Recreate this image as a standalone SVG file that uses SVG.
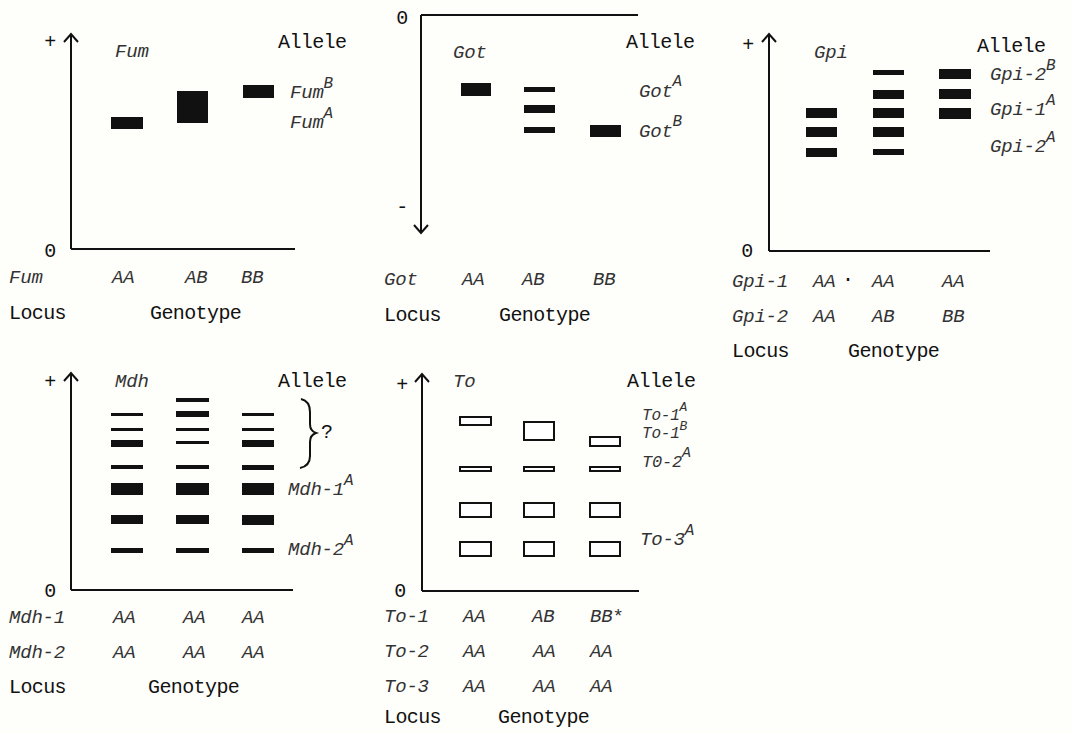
<svg xmlns="http://www.w3.org/2000/svg" width="1072" height="734" viewBox="0 0 1072 734">
<defs>
<marker id="arr" markerUnits="userSpaceOnUse" markerWidth="20" markerHeight="20" refX="10" refY="10" orient="auto">
<path d="M2,3 L10,10 L2,17" fill="none" stroke="#111" stroke-width="2"/>
</marker>
<style>
.ax{stroke:#111;stroke-width:2;fill:none}
.b{fill:#111}
.o{fill:#fff;stroke:#111;stroke-width:2}
.t{font-family:"Liberation Mono","DejaVu Sans Mono",monospace;font-size:20px;letter-spacing:-0.6px;fill:#111}
.i{font-family:"Liberation Mono","DejaVu Sans Mono",monospace;font-size:19px;letter-spacing:-0.2px;font-style:italic;fill:#333}
.s{font-size:16px}
.c{text-anchor:middle}
</style>
</defs>
<rect width="1072" height="734" fill="#fefefb"/>

<g id="axes">
<path class="ax" d="M71,249 V34" marker-end="url(#arr)"/>
<path class="ax" d="M71,249 H295"/>
<path class="ax" d="M421,15 H638"/>
<path class="ax" d="M421,15 V233" marker-end="url(#arr)"/>
<path class="ax" d="M769,251 V34" marker-end="url(#arr)"/>
<path class="ax" d="M769,251 H990"/>
<path class="ax" d="M71,590 V373" marker-end="url(#arr)"/>
<path class="ax" d="M71,590 H293"/>
<path class="ax" d="M422,591 V374" marker-end="url(#arr)"/>
<path class="ax" d="M422,591 H639"/>
</g>

<g id="fum">
<text class="t c" x="50" y="48">+</text>
<text class="t c" x="50" y="257">0</text>
<text class="i" x="115" y="57">Fum</text>
<text class="t" x="278" y="48">Allele</text>
<rect class="b" x="111" y="117" width="32" height="12"/>
<rect class="b" x="177" y="91" width="31" height="32"/>
<rect class="b" x="243" y="85" width="31" height="13"/>
<text class="i" x="290" y="98">Fum<tspan class="s" dy="-10">B</tspan></text>
<text class="i" x="290" y="128">Fum<tspan class="s" dy="-10">A</tspan></text>
<text class="i" x="9" y="283">Fum</text>
<text class="i" x="112" y="283">AA</text>
<text class="i" x="185" y="283">AB</text>
<text class="i" x="241" y="283">BB</text>
<text class="t" x="9" y="319">Locus</text>
<text class="t" x="150" y="319">Genotype</text>
</g>

<g id="got">
<text class="t c" x="402" y="24">0</text>
<text class="t c" x="402" y="213">-</text>
<text class="i" x="453" y="58">Got</text>
<text class="t" x="626" y="48">Allele</text>
<rect class="b" x="461" y="83" width="30" height="13"/>
<rect class="b" x="524" y="87" width="31" height="5"/>
<rect class="b" x="524" y="105" width="31" height="8"/>
<rect class="b" x="524" y="127" width="31" height="6"/>
<rect class="b" x="590" y="125" width="31" height="12"/>
<text class="i" x="639" y="97">Got<tspan class="s" dy="-11">A</tspan></text>
<text class="i" x="639" y="137">Got<tspan class="s" dy="-11">B</tspan></text>
<text class="i" x="384" y="285">Got</text>
<text class="i" x="462" y="285">AA</text>
<text class="i" x="522" y="285">AB</text>
<text class="i" x="593" y="285">BB</text>
<text class="t" x="384" y="321">Locus</text>
<text class="t" x="499" y="321">Genotype</text>
</g>

<g id="gpi">
<text class="t c" x="748" y="51">+</text>
<text class="t c" x="747" y="257">0</text>
<text class="i" x="814" y="58">Gpi</text>
<text class="t" x="977" y="52">Allele</text>
<rect class="b" x="806" y="108" width="31" height="10"/>
<rect class="b" x="806" y="127" width="31" height="10"/>
<rect class="b" x="806" y="148" width="31" height="9"/>
<rect class="b" x="873" y="70" width="31" height="5"/>
<rect class="b" x="873" y="90" width="31" height="9"/>
<rect class="b" x="873" y="108" width="31" height="10"/>
<rect class="b" x="873" y="127" width="31" height="10"/>
<rect class="b" x="873" y="149" width="31" height="6"/>
<rect class="b" x="939" y="69" width="32" height="10"/>
<rect class="b" x="939" y="89" width="32" height="10"/>
<rect class="b" x="939" y="108" width="32" height="11"/>
<text class="i" x="990" y="80">Gpi-2<tspan class="s" dy="-10">B</tspan></text>
<text class="i" x="990" y="115">Gpi-1<tspan class="s" dy="-10">A</tspan></text>
<text class="i" x="990" y="152">Gpi-2<tspan class="s" dy="-10">A</tspan></text>
<text class="i" x="732" y="287">Gpi-1</text>
<text class="i" x="813" y="287">AA</text>
<text class="t" x="842" y="285">·</text>
<text class="i" x="872" y="287">AA</text>
<text class="i" x="942" y="287">AA</text>
<text class="i" x="732" y="322">Gpi-2</text>
<text class="i" x="813" y="322">AA</text>
<text class="i" x="872" y="322">AB</text>
<text class="i" x="942" y="322">BB</text>
<text class="t" x="732" y="357">Locus</text>
<text class="t" x="848" y="357">Genotype</text>
</g>

<g id="mdh">
<text class="t c" x="50" y="388">+</text>
<text class="t c" x="50" y="597">0</text>
<text class="i" x="115" y="387">Mdh</text>
<text class="t" x="278" y="387">Allele</text>
<rect class="b" x="111" y="413" width="32" height="3"/>
<rect class="b" x="111" y="428" width="32" height="3"/>
<rect class="b" x="111" y="440" width="32" height="7"/>
<rect class="b" x="111" y="465" width="32" height="4"/>
<rect class="b" x="111" y="483" width="32" height="12"/>
<rect class="b" x="111" y="515" width="32" height="9"/>
<rect class="b" x="111" y="548" width="32" height="5"/>
<rect class="b" x="176" y="398" width="33" height="4"/>
<rect class="b" x="176" y="411" width="33" height="6"/>
<rect class="b" x="176" y="428" width="33" height="3"/>
<rect class="b" x="176" y="441" width="33" height="3"/>
<rect class="b" x="176" y="465" width="33" height="4"/>
<rect class="b" x="176" y="483" width="33" height="12"/>
<rect class="b" x="176" y="515" width="33" height="9"/>
<rect class="b" x="176" y="548" width="33" height="5"/>
<rect class="b" x="242" y="413" width="32" height="3"/>
<rect class="b" x="242" y="428" width="32" height="3"/>
<rect class="b" x="242" y="440" width="32" height="7"/>
<rect class="b" x="242" y="465" width="32" height="5"/>
<rect class="b" x="242" y="483" width="32" height="12"/>
<rect class="b" x="242" y="515" width="32" height="10"/>
<rect class="b" x="242" y="548" width="32" height="5"/>
<path d="M301,399 Q310,401 310,412 V424 Q310,431 316,433 Q310,435 310,442 V456 Q310,466 300,468" fill="none" stroke="#111" stroke-width="2"/>
<text class="t" x="321" y="438">?</text>
<text class="i" x="288" y="495">Mdh-1<tspan class="s" dy="-10">A</tspan></text>
<text class="i" x="288" y="555">Mdh-2<tspan class="s" dy="-10">A</tspan></text>
<text class="i" x="9" y="623">Mdh-1</text>
<text class="i" x="113" y="623">AA</text>
<text class="i" x="183" y="623">AA</text>
<text class="i" x="242" y="623">AA</text>
<text class="i" x="9" y="658">Mdh-2</text>
<text class="i" x="113" y="658">AA</text>
<text class="i" x="183" y="658">AA</text>
<text class="i" x="242" y="658">AA</text>
<text class="t" x="9" y="693">Locus</text>
<text class="t" x="148" y="693">Genotype</text>
</g>

<g id="to">
<text class="t c" x="402" y="391">+</text>
<text class="t c" x="400" y="597">0</text>
<text class="i" x="453" y="387">To</text>
<text class="t" x="627" y="387">Allele</text>
<rect class="o" x="460" y="417" width="31" height="8"/>
<rect class="o" x="460" y="467" width="31" height="4"/>
<rect class="o" x="460" y="503" width="31" height="14"/>
<rect class="o" x="460" y="542" width="31" height="14"/>
<rect class="o" x="524" y="422" width="30" height="18"/>
<rect class="o" x="524" y="467" width="30" height="4"/>
<rect class="o" x="524" y="503" width="30" height="14"/>
<rect class="o" x="524" y="542" width="30" height="14"/>
<rect class="o" x="590" y="437" width="30" height="9"/>
<rect class="o" x="590" y="467" width="30" height="4"/>
<rect class="o" x="590" y="503" width="30" height="14"/>
<rect class="o" x="590" y="542" width="30" height="14"/>
<text class="i" x="642" y="420" style="font-size:16px">To-1<tspan style="font-size:13px" dy="-9">A</tspan></text>
<text class="i" x="642" y="438" style="font-size:16px">To-1<tspan style="font-size:13px" dy="-8">B</tspan></text>
<text class="i" x="642" y="467" style="font-size:17px">T0-2<tspan style="font-size:15px" dy="-10">A</tspan></text>
<text class="i" x="640" y="545">To-3<tspan class="s" dy="-10">A</tspan></text>
<text class="i" x="384" y="622">To-1</text>
<text class="i" x="463" y="622">AA</text>
<text class="i" x="532" y="622">AB</text>
<text class="i" x="590" y="622">BB<tspan font-style="normal">*</tspan></text>
<text class="i" x="384" y="657">To-2</text>
<text class="i" x="463" y="657">AA</text>
<text class="i" x="533" y="657">AA</text>
<text class="i" x="590" y="657">AA</text>
<text class="i" x="384" y="692">To-3</text>
<text class="i" x="463" y="692">AA</text>
<text class="i" x="533" y="692">AA</text>
<text class="i" x="590" y="692">AA</text>
<text class="t" x="384" y="723">Locus</text>
<text class="t" x="498" y="723">Genotype</text>
</g>
</svg>
